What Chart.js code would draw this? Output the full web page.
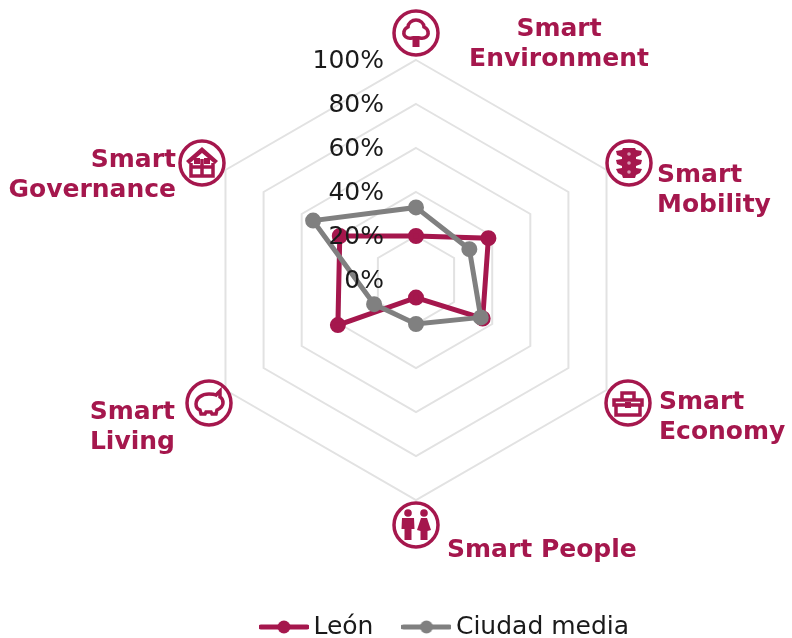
<!DOCTYPE html>
<html>
<head>
<meta charset="utf-8">
<style>
html, body { margin: 0; padding: 0; background: #fff; overflow: hidden; }
#wrap { width: 792px; height: 638px; }
</style>
<script src="https://cdn.jsdelivr.net/npm/chart.js@4"></script>
</head>
<body>
<div id="wrap"><canvas id="radar"></canvas></div>
<script>
const categories = ['Smart Environment', 'Smart Mobility', 'Smart Economy', 'Smart People', 'Smart Living', 'Smart Governance'];
const leonValues = [20, 38, 35, 8, 41, 40];
const ciudadValues = [33, 28, 34, 20, 22, 54];
const tickValues = [0, 20, 40, 60, 80, 100];
const tickLabels = ['0%', '20%', '40%', '60%', '80%', '100%'];

const WINE = '#a5174d';
const GREY = '#808080';

// label and icon placement around the hexagon
const decorations = [
    { icon: treeIcon, cx: 416, cy: 33, lines: ['Smart', 'Environment'], align: 'center', x: 559, y: 29 },
    { icon: lightIcon, cx: 629, cy: 163, lines: ['Smart', 'Mobility'], align: 'left', x: 657, y: 175 },
    { icon: caseIcon, cx: 628, cy: 403, lines: ['Smart', 'Economy'], align: 'left', x: 659, y: 402 },
    { icon: peopleIcon, cx: 416, cy: 525, lines: ['Smart People'], align: 'left', x: 447, y: 550 },
    { icon: pigIcon, cx: 209, cy: 403, lines: ['Smart', 'Living'], align: 'right', x: 175, y: 412 },
    { icon: houseIcon, cx: 202, cy: 163, lines: ['Smart', 'Governance'], align: 'right', x: 176, y: 160 }
];

function treeIcon(ctx) {
    ctx.lineWidth = 3.5;
    ctx.stroke(new Path2D('M-4 5 C-9 6 -13 3 -12 -1 C-12 -4 -10 -5 -8 -6 C-8 -10 -4 -13 0 -13 C4 -13 8 -10 8 -6 C10 -5 12 -4 12 -1 C13 3 9 6 4 5 Z'));
    ctx.fill(new Path2D('M-3.5 3 L3.5 3 L3.5 14 L-3.5 14 Z'));
}

function lightIcon(ctx) {
    ctx.fill(new Path2D('M-6 -15 L6 -15 L7 -13 L13 -12 L12 -8 L7 -6 L7 -4 L13 -3 L12 1 L7 3 L7 5 L13 6 L11 10 L7 12 L6 15 L-6 15 L-7 12 L-11 10 L-13 6 L-7 5 L-7 3 L-12 1 L-13 -3 L-7 -4 L-7 -6 L-12 -8 L-13 -12 L-7 -13 Z'));
    ctx.fillStyle = '#d99ab3';
    [-9, 0, 9].forEach(y => {
        ctx.beginPath();
        ctx.arc(0, y, 1.8, 0, Math.PI * 2);
        ctx.fill();
    });
}

function caseIcon(ctx) {
    ctx.lineWidth = 3.5;
    ctx.stroke(new Path2D('M-14 -3 L14 -3 L14 2 L-14 2 Z M-12 2 L-12 12 L12 12 L12 2 M-6 -3 L-6 -10 L6 -10 L6 -3'));
    ctx.fill(new Path2D('M-3 -1 L3 -1 L3 5 L-3 5 Z'));
}

function peopleIcon(ctx) {
    [-8, 8].forEach((dx, i) => {
        ctx.beginPath();
        ctx.arc(dx, -12, 3.8, 0, Math.PI * 2);
        ctx.fill();
        const body = i === 0
            ? 'M-6 -7 L6 -7 L6.5 4 L3.5 4 L3.5 15 L-3.5 15 L-3.5 4 L-6.5 4 Z'
            : 'M-3 -7 L3 -7 L7 5 L3.5 6 L3.5 15 L-3.5 15 L-3.5 6 L-7 5 Z';
        ctx.save();
        ctx.translate(dx, 0);
        ctx.fill(new Path2D(body));
        ctx.restore();
    });
}

function pigIcon(ctx) {
    ctx.lineWidth = 3.5;
    ctx.stroke(new Path2D('M-13 1 C-13 -5 -7 -9 0 -9 C3 -9 5 -9 7 -8 L11 -12 L11 -6 C13 -5 14 -3 14 0 C14 4 10 6 8 7 L7 11 L3 11 L2 9 L-3 9 L-4 11 L-8 11 L-9 7 C-12 6 -13 4 -13 1 Z'));
}

function houseIcon(ctx) {
    ctx.fill(new Path2D('M0 -16 L16 -2 L13 1 L0 -10 L-13 1 L-16 -2 Z'));
    ctx.lineWidth = 3.5;
    ctx.stroke(new Path2D('M-11 0 L-11 13 L11 13 L11 0 M0 -4 L0 13 M-11 4 L11 4'));
    ctx.fill(new Path2D('M-8 -5 L-2 -5 L-2 1 L-8 1 Z M2 -5 L8 -5 L8 1 L2 1 Z'));
}

// little line with a dot, the legend's own boxes can't do this
function legendMark(color) {
    const c = document.createElement('canvas');
    c.width = 50;
    c.height = 14;
    const g = c.getContext('2d');
    g.strokeStyle = color;
    g.lineWidth = 5;
    g.lineCap = 'round';
    g.beginPath();
    g.moveTo(2, 7);
    g.lineTo(48, 7);
    g.stroke();
    g.fillStyle = color;
    g.beginPath();
    g.arc(25, 7, 6.5, 0, Math.PI * 2);
    g.fill();
    return c;
}

const marks = [legendMark(WINE), legendMark(GREY)];

const hexagonExtras = {
    id: 'hexagonExtras',
    afterLayout(chart) {
        // legend sits right of the canvas centre and near the bottom edge
        const lg = chart.legend;
        lg.left += 32;
        lg.right += 32;
        const dy = 627 - (lg.top + lg.options.labels.padding + 12.5);
        lg.top += dy;
        lg.bottom += dy;
    },
    afterDatasetsDraw(chart) {
        const ctx = chart.ctx;
        const scale = chart.scales.r;
        ctx.save();

        ctx.font = '25px "DejaVu Sans"';
        ctx.fillStyle = '#1a1a1a';
        ctx.textAlign = 'right';
        ctx.textBaseline = 'middle';
        tickValues.forEach((v, i) => {
            const y = scale.yCenter - scale.getDistanceFromCenterForValue(v);
            ctx.fillText(tickLabels[i], scale.xCenter - 32, y + 1);
        });

        decorations.forEach(d => {
            ctx.save();
            ctx.translate(d.cx, d.cy);
            ctx.fillStyle = '#fff';
            ctx.strokeStyle = WINE;
            ctx.lineWidth = 3.5;
            ctx.beginPath();
            ctx.arc(0, 0, 22, 0, Math.PI * 2);
            ctx.fill();
            ctx.stroke();
            ctx.fillStyle = WINE;
            d.icon(ctx);
            ctx.restore();

            ctx.font = 'bold 25px "DejaVu Sans"';
            ctx.fillStyle = WINE;
            ctx.textAlign = d.align;
            d.lines.forEach((line, i) => ctx.fillText(line, d.x, d.y + i * 30));
        });
        ctx.restore();
    }
};

new Chart(document.getElementById('radar'), {
    type: 'radar',
    data: {
        labels: categories,
        datasets: [
            {
                label: 'León',
                data: leonValues,
                order: 1,
                borderColor: WINE,
                backgroundColor: WINE,
                pointBackgroundColor: WINE,
                pointBorderColor: WINE,
                borderWidth: 5,
                pointRadius: 5.5,
                fill: false
            },
            {
                label: 'Ciudad media',
                data: ciudadValues,
                order: 0,
                borderColor: GREY,
                backgroundColor: GREY,
                pointBackgroundColor: GREY,
                pointBorderColor: GREY,
                borderWidth: 5,
                pointRadius: 5.5,
                fill: false
            }
        ]
    },
    plugins: [hexagonExtras],
    options: {
        responsive: true,
        maintainAspectRatio: false,
        animation: false,
        layout: { padding: { top: 60, left: 80, right: 40, bottom: 66 } },
        scales: {
            r: {
                min: 0,
                max: 100,
                ticks: { stepSize: 20, display: false },
                pointLabels: { display: false },
                angleLines: { display: false },
                grid: { color: '#e2e2e2', lineWidth: 2 }
            }
        },
        plugins: {
            tooltip: { enabled: false },
            legend: {
                position: 'bottom',
                labels: {
                    font: { family: '"DejaVu Sans"', size: 25 },
                    color: '#1a1a1a',
                    padding: 36,
                    usePointStyle: true,
                    pointStyleWidth: 34,
                    sort: (a, b) => a.datasetIndex - b.datasetIndex,
                    generateLabels(chart) {
                        const items = Chart.defaults.plugins.legend.labels.generateLabels(chart);
                        items.forEach(item => { item.pointStyle = marks[item.datasetIndex]; });
                        return items;
                    }
                }
            }
        }
    }
});
</script>
</body>
</html>
